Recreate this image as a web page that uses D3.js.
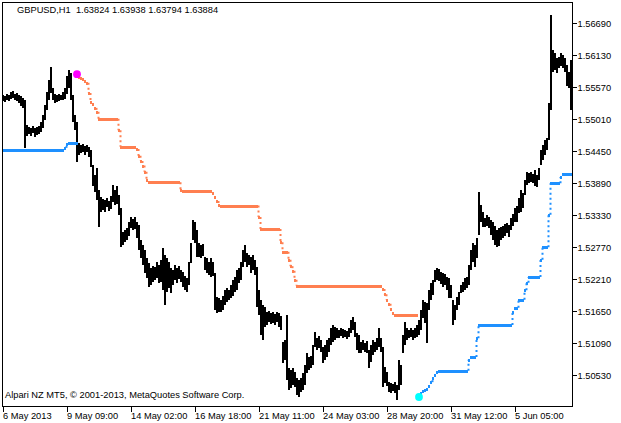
<!DOCTYPE html>
<html><head><meta charset="utf-8">
<script src="https://cdn.jsdelivr.net/npm/d3@7/dist/d3.min.js"></script>
<style>
html,body{margin:0;padding:0;background:#fff;}
svg text{font-family:"Liberation Sans",Arial,sans-serif;font-size:9.3px;fill:#000;white-space:pre;}
</style></head>
<body>
<svg id="chart" width="621" height="423"></svg>
<script>
// ---- data (2-hour bars, GBPUSD) ----
const high = [
1.5544,1.5542,1.5545,1.5544,1.5549,1.5550,1.5545,1.5547,1.5544,1.5542,
1.5538,1.5535,1.5491,1.5488,1.5486,1.5489,1.5486,1.5488,1.5489,1.5496,
1.5509,1.5526,1.5549,1.5570,1.5593,1.5556,1.5545,1.5544,1.5545,1.5544,
1.5549,1.5556,1.5577,1.5587,1.5582,1.5544,1.5509,1.5496,1.5459,1.5456,
1.5458,1.5454,1.5456,1.5452,1.5447,1.5421,1.5404,1.5416,1.5377,1.5365,
1.5362,1.5360,1.5363,1.5358,1.5367,1.5386,1.5377,1.5384,1.5368,1.5346,
1.5304,1.5307,1.5311,1.5321,1.5330,1.5327,1.5330,1.5321,1.5316,1.5290,
1.5281,1.5272,1.5259,1.5250,1.5241,1.5244,1.5243,1.5251,1.5246,1.5255,
1.5276,1.5264,1.5259,1.5251,1.5241,1.5237,1.5246,1.5241,1.5244,1.5237,
1.5234,1.5227,1.5223,1.5251,1.5285,1.5325,1.5321,1.5307,1.5285,1.5281,
1.5283,1.5260,1.5259,1.5251,1.5259,1.5251,1.5232,1.5190,1.5188,1.5185,
1.5192,1.5202,1.5206,1.5202,1.5211,1.5220,1.5225,1.5237,1.5241,1.5251,
1.5272,1.5281,1.5267,1.5264,1.5260,1.5264,1.5255,1.5243,1.5202,1.5185,
1.5176,1.5173,1.5164,1.5166,1.5162,1.5164,1.5160,1.5164,1.5162,1.5157,
1.5111,1.5115,1.5159,1.5066,1.5062,1.5066,1.5059,1.5049,1.5045,1.5049,
1.5057,1.5071,1.5092,1.5085,1.5087,1.5106,1.5129,1.5118,1.5122,1.5115,
1.5103,1.5106,1.5115,1.5118,1.5136,1.5141,1.5138,1.5136,1.5132,1.5136,
1.5134,1.5132,1.5131,1.5136,1.5150,1.5155,1.5146,1.5127,1.5124,1.5111,
1.5115,1.5110,1.5113,1.5097,1.5106,1.5115,1.5111,1.5118,1.5136,1.5118,
1.5103,1.5067,1.5059,1.5041,1.5040,1.5038,1.5041,1.5036,1.5080,1.5071,
1.5124,1.5146,1.5136,1.5132,1.5136,1.5132,1.5136,1.5141,1.5150,1.5167,
1.5185,1.5181,1.5180,1.5202,1.5215,1.5220,1.5237,1.5241,1.5239,1.5234,
1.5232,1.5230,1.5225,1.5223,1.5211,1.5185,1.5176,1.5190,1.5199,1.5211,
1.5216,1.5223,1.5225,1.5246,1.5272,1.5285,1.5281,1.5293,1.5374,1.5351,
1.5339,1.5329,1.5334,1.5330,1.5325,1.5321,1.5314,1.5307,1.5311,1.5313,
1.5314,1.5318,1.5320,1.5316,1.5329,1.5335,1.5346,1.5350,1.5363,1.5377,
1.5372,1.5395,1.5409,1.5407,1.5409,1.5405,1.5412,1.5404,1.5416,1.5447,
1.5456,1.5465,1.5468,1.5530,1.5684,1.5622,1.5617,1.5608,1.5610,1.5617,
1.5613,1.5608,1.5596,1.5584,1.5605
];
const low = [
1.5533,1.5531,1.5535,1.5533,1.5537,1.5538,1.5535,1.5533,1.5530,1.5524,
1.5521,1.5451,1.5472,1.5475,1.5472,1.5477,1.5470,1.5474,1.5475,1.5479,
1.5486,1.5500,1.5517,1.5535,1.5547,1.5535,1.5530,1.5531,1.5533,1.5535,
1.5535,1.5537,1.5545,1.5556,1.5535,1.5496,1.5482,1.5426,1.5439,1.5442,
1.5444,1.5439,1.5444,1.5435,1.5418,1.5384,1.5374,1.5360,1.5313,1.5339,
1.5342,1.5339,1.5348,1.5341,1.5344,1.5356,1.5351,1.5353,1.5334,1.5277,
1.5281,1.5286,1.5290,1.5297,1.5311,1.5307,1.5309,1.5293,1.5272,1.5259,
1.5246,1.5232,1.5223,1.5208,1.5211,1.5216,1.5220,1.5223,1.5215,1.5216,
1.5202,1.5176,1.5199,1.5206,1.5197,1.5211,1.5220,1.5215,1.5222,1.5216,
1.5208,1.5202,1.5199,1.5211,1.5250,1.5290,1.5285,1.5260,1.5260,1.5259,
1.5262,1.5237,1.5232,1.5229,1.5225,1.5227,1.5167,1.5162,1.5164,1.5164,
1.5167,1.5176,1.5181,1.5185,1.5188,1.5192,1.5199,1.5202,1.5215,1.5220,
1.5243,1.5251,1.5243,1.5246,1.5232,1.5237,1.5229,1.5173,1.5159,1.5124,
1.5115,1.5138,1.5141,1.5146,1.5143,1.5145,1.5141,1.5146,1.5138,1.5132,
1.5074,1.5080,1.5045,1.5027,1.5031,1.5036,1.5033,1.5019,1.5015,1.5024,
1.5027,1.5036,1.5057,1.5062,1.5066,1.5071,1.5103,1.5097,1.5101,1.5094,
1.5074,1.5080,1.5085,1.5094,1.5106,1.5111,1.5115,1.5118,1.5118,1.5122,
1.5118,1.5120,1.5117,1.5120,1.5127,1.5132,1.5120,1.5097,1.5092,1.5092,
1.5097,1.5094,1.5092,1.5066,1.5076,1.5089,1.5094,1.5097,1.5103,1.5094,
1.5033,1.5040,1.5034,1.5024,1.5022,1.5026,1.5022,1.5010,1.5027,1.5036,
1.5092,1.5106,1.5115,1.5118,1.5120,1.5115,1.5118,1.5120,1.5124,1.5132,
1.5154,1.5145,1.5110,1.5167,1.5185,1.5194,1.5216,1.5220,1.5218,1.5213,
1.5208,1.5211,1.5202,1.5188,1.5188,1.5141,1.5150,1.5167,1.5176,1.5197,
1.5199,1.5202,1.5206,1.5211,1.5237,1.5251,1.5243,1.5259,1.5299,1.5321,
1.5313,1.5313,1.5314,1.5311,1.5299,1.5290,1.5281,1.5277,1.5279,1.5290,
1.5293,1.5297,1.5302,1.5295,1.5307,1.5314,1.5321,1.5321,1.5337,1.5339,
1.5346,1.5368,1.5386,1.5389,1.5391,1.5389,1.5384,1.5382,1.5395,1.5421,
1.5430,1.5439,1.5447,1.5465,1.5517,1.5584,1.5587,1.5582,1.5591,1.5594,
1.5591,1.5584,1.5559,1.5556,1.5517
];

// trailing stop above price (downtrend), starting at bar 38
const sellStopStart = 38;
const sellStop = [
1.5575,1.5573,1.5572,1.5568,1.5565,1.5547,1.5531,1.5528,1.5521,1.5514,
1.5502,1.5502,1.5502,1.5502,1.5502,1.5502,1.5502,1.5502,1.5502,1.5502,
1.5482,
1.5453,1.5453,1.5453,1.5453,1.5453,1.5453,1.5453,1.5453,
1.5449,1.5437,1.5428,1.5420,1.5409,1.5395,
1.5391,1.5391,1.5391,1.5391,1.5391,1.5391,1.5391,1.5391,1.5391,1.5391,1.5391,1.5391,1.5391,1.5391,1.5391,1.5391,
1.5377,
1.5376,1.5376,1.5376,1.5376,1.5376,1.5376,1.5376,1.5376,1.5376,1.5376,1.5376,1.5376,1.5376,1.5376,1.5376,
1.5372,1.5365,1.5358,1.5351,
1.5350,1.5350,1.5350,1.5350,1.5350,1.5350,1.5350,1.5350,1.5350,1.5350,1.5350,1.5350,1.5350,1.5350,1.5350,1.5350,1.5350,1.5350,1.5350,
1.5330,
1.5309,1.5309,1.5309,1.5309,1.5309,1.5309,1.5309,1.5309,1.5309,1.5309,
1.5286,
1.5269,1.5269,1.5269,
1.5255,1.5244,1.5236,1.5220,
1.5210,1.5210,1.5210,1.5210,1.5210,1.5210,1.5210,1.5210,1.5210,1.5210,
1.5210,1.5210,1.5210,1.5210,1.5210,1.5210,1.5210,1.5210,1.5210,1.5210,
1.5210,1.5210,1.5210,1.5210,1.5210,1.5210,1.5210,1.5210,1.5210,1.5210,
1.5210,1.5210,1.5210,1.5210,1.5210,1.5210,1.5210,1.5210,1.5210,1.5210,
1.5210,1.5210,1.5210,
1.5204,1.5195,1.5185,1.5178,1.5169,1.5162,
1.5159,1.5159,1.5159,1.5159,1.5159,1.5159,1.5159,1.5159,1.5159,1.5159,1.5159,1.5159
];

// trailing stop below price (uptrend)
const buyStopAStart = 0;
const buyStopA = [
1.5447,1.5447,1.5447,1.5447,1.5447,1.5447,1.5447,1.5447,1.5447,1.5447,
1.5447,1.5447,1.5447,1.5447,1.5447,1.5447,1.5447,1.5447,1.5447,1.5447,
1.5447,1.5447,1.5447,1.5447,1.5447,1.5447,1.5447,1.5447,1.5447,1.5447,
1.5447,1.5451,1.5458,1.5459,1.5459,1.5459,1.5459,1.5459
];
const buyStopBStart = 209;
const buyStopB = [
1.5022,1.5026,1.5027,1.5029,1.5034,1.5041,1.5049,1.5054,1.5059,
1.5061,1.5061,1.5061,1.5061,1.5061,1.5061,1.5061,1.5061,1.5061,1.5061,1.5061,1.5061,1.5061,1.5061,1.5061,
1.5080,1.5085,1.5085,1.5085,1.5118,
1.5141,1.5141,1.5141,1.5141,1.5141,1.5141,1.5141,1.5141,1.5141,1.5141,1.5141,1.5141,1.5141,1.5141,1.5141,1.5141,1.5141,
1.5164,1.5171,1.5171,1.5185,1.5185,1.5185,1.5202,1.5215,
1.5225,1.5225,1.5225,1.5225,1.5225,1.5225,
1.5255,1.5277,1.5277,1.5277,1.5334,
1.5389,1.5389,1.5389,1.5389,1.5389,1.5400,
1.5405,1.5405,1.5405,1.5405,1.5405
];

// trend-change signals
const signalBars = [37, 208];
const signalPrices = [1.5580, 1.5015];
const signalColors = ["#FF00FF", "#00FFFF"];

const yTicks = [1.56690,1.56130,1.55570,1.55010,1.54450,1.53890,1.53330,1.52770,1.52210,1.51650,1.51090,1.50530];
const xTickBars = [0,32,64,96,128,160,192,224,256];
const xTickLabels = ["6 May 2013","9 May 09:00","14 May 02:00","16 May 18:00","21 May 11:00","24 May 03:00","28 May 20:00","31 May 12:00","5 Jun 05:00"];

const headerText = "GBPUSD,H1  1.63824 1.63938 1.63794 1.63884";
const footerText = "Alpari NZ MT5, \u00A9 2001-2013, MetaQuotes Software Corp.";

// ---- drawing ----
const svg = d3.select("#chart");
const L = 2, R = 572, T = 2, B = 406;
const x = d3.scaleLinear().domain([0, high.length]).range([L, R]);
const y = d3.scaleLinear().domain([1.50530, 1.56690]).range([375.3, 23.3]);

svg.append("rect").attr("width",621).attr("height",423).attr("fill","#fff");

const plot = svg.append("g");
plot.append("clipPath").attr("id","clip").append("rect")
  .attr("x",L).attr("y",T).attr("width",R-L).attr("height",B-T);
const g = plot.append("g").attr("clip-path","url(#clip)");

// price bars
g.append("g").selectAll("rect").data(high).join("rect")
  .attr("x",(d,i)=>x(i)).attr("width",(d,i)=>x(i+1)-x(i))
  .attr("y",(d,i)=>y(d)).attr("height",(d,i)=>Math.max(1,y(low[i])-y(d)))
  .attr("fill","#000").attr("shape-rendering","crispEdges");

function drawStop(values, start, color){
  const pts = values.map((v,k)=>({i:start+k, v}));
  const gg = g.append("g");
  gg.selectAll("rect").data(pts).join("rect")
    .attr("x",d=>x(d.i)).attr("width",d=>x(d.i+1)-x(d.i))
    .attr("y",d=>Math.round(y(d.v))-1.5).attr("height",3)
    .attr("fill",color).attr("shape-rendering","crispEdges");
  const jumps = pts.slice(1).map((d,k)=>({i:d.i, a:pts[k].v, b:d.v}))
    .filter(d=>Math.abs(y(d.a)-y(d.b))>4);
  gg.selectAll("line").data(jumps).join("line")
    .attr("x1",d=>x(d.i)+0.5).attr("x2",d=>x(d.i)+0.5)
    .attr("y1",d=>y(d.a)).attr("y2",d=>y(d.b))
    .attr("stroke",color).attr("stroke-width",2).attr("stroke-dasharray","2,3");
}
drawStop(sellStop, sellStopStart, "#FF7F50");
drawStop(buyStopA, buyStopAStart, "#1E90FF");
drawStop(buyStopB, buyStopBStart, "#1E90FF");

g.append("g").selectAll("circle").data(signalBars).join("circle")
  .attr("cx",d=>x(d)+1).attr("cy",(d,i)=>y(signalPrices[i])).attr("r",3.9)
  .attr("fill",(d,i)=>signalColors[i]);

// frame
svg.append("rect").attr("x",L+0.5).attr("y",T+0.5).attr("width",R-L).attr("height",B-T)
  .attr("fill","none").attr("stroke","#000").attr("stroke-width",1).attr("shape-rendering","crispEdges");

// axes
const yAxis = svg.append("g").attr("transform",`translate(${R+0.5},0)`)
  .call(d3.axisRight(y).tickValues(yTicks).tickFormat(d3.format(".5f")).tickSize(4).tickPadding(1));
const xAxis = svg.append("g").attr("transform",`translate(0,${B+0.5})`)
  .call(d3.axisBottom(x).tickValues(xTickBars).tickFormat((d,i)=>xTickLabels[i]).tickSize(5).tickPadding(0.5));
[yAxis,xAxis].forEach(a=>{
  a.select(".domain").remove();
  a.selectAll("line").attr("stroke","#000").attr("shape-rendering","crispEdges");
  a.selectAll("text").attr("fill","#000").style("font-family","'Liberation Sans',Arial,sans-serif").style("font-size","9.3px");
  a.attr("font-size",null).attr("font-family",null);
});
xAxis.selectAll(".tick line").attr("transform","translate(0.5,0)");
xAxis.selectAll("text").attr("text-anchor","start").attr("x",0.5);

svg.append("text").attr("x",17).attr("y",12.7).attr("xml:space","preserve").text(headerText);
svg.append("text").attr("x",5).attr("y",398).text(footerText);
</script>
</body></html>
